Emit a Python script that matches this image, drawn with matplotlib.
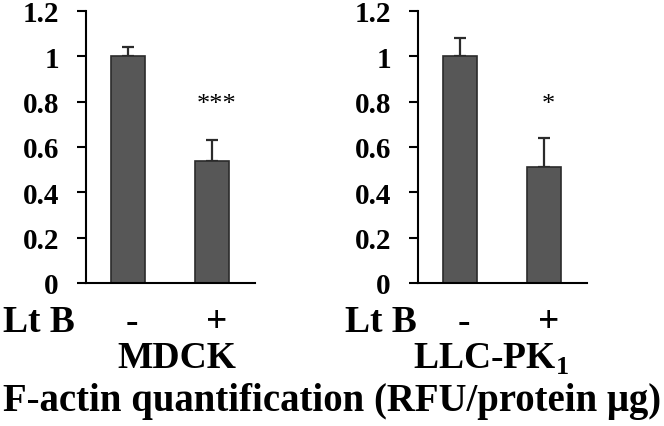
import matplotlib
matplotlib.use("Agg")
import matplotlib.pyplot as plt
from matplotlib.transforms import blended_transform_factory

plt.rcParams['font.family'] = ['Liberation Serif', 'DejaVu Serif']
plt.rcParams['font.weight'] = 'bold'
plt.rcParams['mathtext.fontset'] = 'custom'
plt.rcParams['mathtext.rm'] = 'Liberation Serif:bold'
plt.rcParams['mathtext.bf'] = 'Liberation Serif:bold'

# data
cells = ['MDCK', 'LLC-PK$_\\mathrm{1}$']
treat = ['-', '+']
means = [[1.00, 0.54], [1.00, 0.51]]
errs = [[0.04, 0.09], [0.08, 0.13]]
stars = ['***', '*']
yticks = [0, 0.2, 0.4, 0.6, 0.8, 1, 1.2]
ytick_labels = ['0', '0.2', '0.4', '0.6', '0.8', '1', '1.2']

fig = plt.figure(figsize=(6.64, 4.27), dpi=100)
lefts = [0.1295, 0.6295]
lt_x = [0.004, 0.520]
cell_x = [177 / 664, 491 / 664]

for i, left in enumerate(lefts):
    ax = fig.add_axes([left, 0.335, 0.2545, 0.637])
    x = [0, 1]
    ax.bar(x, means[i], width=0.405, color='#575757', edgecolor='#2b2b2b', linewidth=1.2, zorder=2)
    ax.errorbar(x, means[i], yerr=[[0, 0], errs[i]], fmt='none', ecolor='#2b2b2b',
                elinewidth=1.6, capsize=4, capthick=1.6, zorder=1)
    ax.text(1.05, 0.79, stars[i], ha='center', va='center', fontsize=19, fontweight='normal')
    ax.set_xlim(-0.5, 1.51)
    ax.set_ylim(0, 1.2)
    ax.set_yticks(yticks)
    ax.set_yticklabels(ytick_labels)
    ax.set_xticks([])
    for s in ['top', 'right']:
        ax.spines[s].set_visible(False)
    for s in ['left', 'bottom']:
        ax.spines[s].set_linewidth(1.5)
    ax.tick_params(axis='y', direction='out', length=6.5, width=1.5, pad=13, labelsize=21)

    tr = blended_transform_factory(ax.transData, fig.transFigure)
    for xi, t in zip(x, treat):
        ax.text(xi + 0.05, 1 - 323 / 427, t, transform=tr, ha='center', va='center', fontsize=27)
    fig.text(lt_x[i], 1 - 323 / 427, 'Lt B', ha='left', va='center', fontsize=27)
    fig.text(cell_x[i], 1 - 359 / 427, cells[i], ha='center', va='center', fontsize=27)

fig.text(0.5, 1 - 402 / 427, 'F-actin quantification (RFU/protein μg)', ha='center', va='center',
         fontsize=27.9)

fig.savefig('out.png', dpi=100)
